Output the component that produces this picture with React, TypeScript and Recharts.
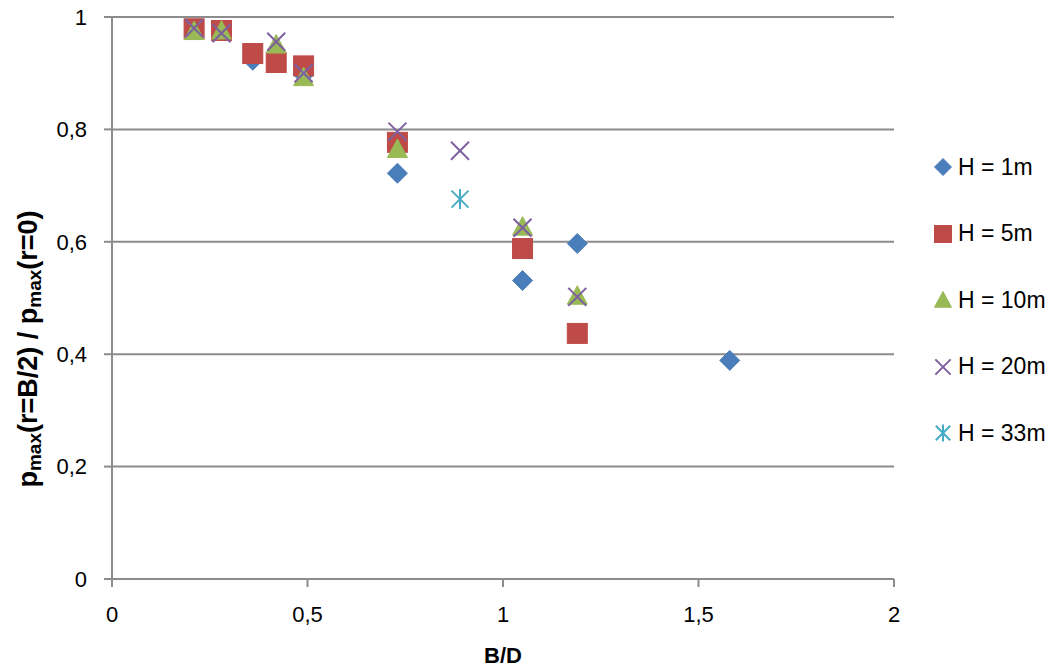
import React from 'react';
import { ScatterChart, Scatter, XAxis, YAxis, CartesianGrid } from 'recharts';

if (typeof document !== 'undefined') {
  document.body.style.margin = '0';
}

const FONT = '"Liberation Sans", Arial, sans-serif';

const xTicks = [0, 0.5, 1, 1.5, 2];
const yTicks = [0, 0.2, 0.4, 0.6, 0.8, 1];

const h1 = [
  { x: 0.36, y: 0.923 },
  { x: 0.49, y: 0.897 },
  { x: 0.73, y: 0.722 },
  { x: 1.05, y: 0.531 },
  { x: 1.19, y: 0.597 },
  { x: 1.58, y: 0.389 },
];
const h5 = [
  { x: 0.21, y: 0.979 },
  { x: 0.28, y: 0.976 },
  { x: 0.36, y: 0.935 },
  { x: 0.42, y: 0.919 },
  { x: 0.49, y: 0.913 },
  { x: 0.73, y: 0.777 },
  { x: 1.05, y: 0.588 },
  { x: 1.19, y: 0.437 },
];
const h10 = [
  { x: 0.21, y: 0.975 },
  { x: 0.28, y: 0.976 },
  { x: 0.42, y: 0.951 },
  { x: 0.49, y: 0.893 },
  { x: 0.73, y: 0.765 },
  { x: 1.05, y: 0.627 },
  { x: 1.19, y: 0.504 },
];
const h20 = [
  { x: 0.21, y: 0.98 },
  { x: 0.28, y: 0.971 },
  { x: 0.42, y: 0.956 },
  { x: 0.49, y: 0.9 },
  { x: 0.73, y: 0.796 },
  { x: 0.89, y: 0.762 },
  { x: 1.05, y: 0.625 },
  { x: 1.19, y: 0.502 },
];
const h33 = [{ x: 0.89, y: 0.676 }];

const seriesNames = ['H = 1m', 'H = 5m', 'H = 10m', 'H = 20m', 'H = 33m'];

const C_BLUE = '#4A7EBB';
const C_RED = '#BE4B48';
const C_GREEN = '#98B954';
const C_PURPLE = '#7D60A0';
const C_TEAL = '#46AAC5';

type MP = { cx?: number; cy?: number; s?: number };

const Diamond = ({ cx = 0, cy = 0, s = 10 }: MP) => (
  <polygon
    points={`${cx},${cy - s} ${cx + s},${cy} ${cx},${cy + s} ${cx - s},${cy}`}
    fill={C_BLUE}
    stroke={C_BLUE}
    strokeWidth={1}
  />
);
const Square = ({ cx = 0, cy = 0, s = 10 }: MP) => (
  <rect x={cx - s} y={cy - s} width={2 * s} height={2 * s} fill={C_RED} stroke={C_RED} strokeWidth={1} />
);
const Triangle = ({ cx = 0, cy = 0, s = 10 }: MP) => (
  <polygon
    points={`${cx},${cy - s} ${cx + s},${cy + s * 0.85} ${cx - s},${cy + s * 0.85}`}
    fill={C_GREEN}
    stroke={C_GREEN}
    strokeWidth={1}
  />
);
const Cross = ({ cx = 0, cy = 0, s = 10 }: MP) => (
  <g stroke={C_PURPLE} strokeWidth={2}>
    <line x1={cx - s * 0.9} y1={cy - s * 0.9} x2={cx + s * 0.9} y2={cy + s * 0.9} />
    <line x1={cx - s * 0.9} y1={cy + s * 0.9} x2={cx + s * 0.9} y2={cy - s * 0.9} />
  </g>
);
const Star = ({ cx = 0, cy = 0, s = 10 }: MP) => (
  <g stroke={C_TEAL} strokeWidth={2}>
    <line x1={cx - s * 0.85} y1={cy - s * 0.85} x2={cx + s * 0.85} y2={cy + s * 0.85} />
    <line x1={cx - s * 0.85} y1={cy + s * 0.85} x2={cx + s * 0.85} y2={cy - s * 0.85} />
    <line x1={cx} y1={cy - s} x2={cx} y2={cy + s} />
  </g>
);

const markers = [Diamond, Square, Triangle, Cross, Star];

const fmt = (v: number) => String(v).replace('.', ',');

const YLabel = () => (
  <text
    x={28}
    y={349}
    transform="rotate(-90 28 349)"
    textAnchor="middle"
    dominantBaseline="central"
    fontFamily={FONT}
    fontWeight="bold"
    fontSize={27}
    fill="#000"
  >
    p<tspan dy={6} fontSize={19}>max</tspan>
    <tspan dy={-6}>(r=B/2) / p</tspan>
    <tspan dy={6} fontSize={19}>max</tspan>
    <tspan dy={-6}>(r=0)</tspan>
  </text>
);

const XLabel = () => (
  <text
    x={503}
    y={655}
    textAnchor="middle"
    dominantBaseline="central"
    fontFamily={FONT}
    fontWeight="bold"
    fontSize={22}
    fill="#000"
  >
    B/D
  </text>
);

const Legend = () => (
  <div style={{ position: 'absolute', left: 930, top: 150, width: 119 }}>
    {seriesNames.map((n, i) => {
      const M = markers[i];
      return (
        <div
          key={n}
          style={{
            position: 'absolute',
            top: i * 66.5,
            left: 0,
            height: 34,
            display: 'flex',
            alignItems: 'center',
            whiteSpace: 'nowrap',
          }}
        >
          <svg width={26} height={34} style={{ display: 'block' }}>
            <M cx={13} cy={17} s={8.5} />
          </svg>
          <span style={{ fontFamily: FONT, fontSize: 23, color: '#000', marginLeft: 2 }}>{n}</span>
        </div>
      );
    })}
  </div>
);

const GRID = '#8C8C8C';

export default function App() {
  const datasets = [h1, h5, h10, h20, h33];
  return (
    <div style={{ position: 'relative', width: 1049, height: 668, background: '#fff' }}>
      <ScatterChart width={1049} height={668} margin={{ top: 17, right: 155, bottom: 0, left: 0 }}>
        <CartesianGrid horizontal vertical={false} stroke={GRID} strokeWidth={2} />
        <XAxis
          type="number"
          dataKey="x"
          domain={[0, 2]}
          ticks={xTicks}
          tickFormatter={fmt}
          height={89}
          tickSize={8}
          tickMargin={19}
          axisLine={{ stroke: GRID, strokeWidth: 2 }}
          tickLine={{ stroke: GRID, strokeWidth: 2 }}
          tick={{ fontFamily: FONT, fontSize: 22, fill: '#000' }}
          label={{ content: () => <XLabel /> }}
          allowDataOverflow
        />
        <YAxis
          type="number"
          dataKey="y"
          domain={[0, 1]}
          ticks={yTicks}
          tickFormatter={fmt}
          width={112}
          tickSize={8}
          tickMargin={17}
          axisLine={{ stroke: GRID, strokeWidth: 2 }}
          tickLine={{ stroke: GRID, strokeWidth: 2 }}
          tick={{ fontFamily: FONT, fontSize: 22, fill: '#000' }}
          label={{ content: () => <YLabel /> }}
          allowDataOverflow
        />
        {datasets.map((d, i) => {
          const M = markers[i];
          return (
            <Scatter
              key={seriesNames[i]}
              name={seriesNames[i]}
              data={d}
              isAnimationActive={false}
              shape={(p: any) => <M cx={p.cx} cy={p.cy} s={10} />}
            />
          );
        })}
      </ScatterChart>
      <Legend />
    </div>
  );
}
